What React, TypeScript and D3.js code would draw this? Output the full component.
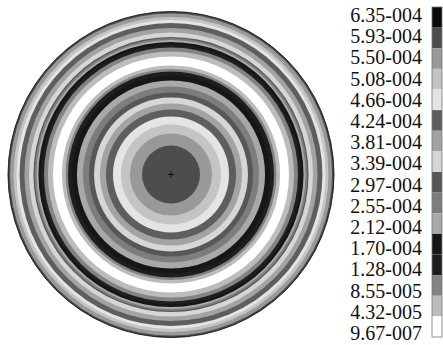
import React, { useEffect, useRef } from "react";
import * as d3 from "d3";

const WIDTH = 443;
const HEIGHT = 345;

// contour levels, top of legend to bottom
const levelLabels = [
  "6.35-004", "5.93-004", "5.50-004", "5.08-004",
  "4.66-004", "4.24-004", "3.81-004", "3.39-004",
  "2.97-004", "2.55-004", "2.12-004", "1.70-004",
  "1.28-004", "8.55-005", "4.32-005", "9.67-007",
];
const levelGrays = [
  "#0a0a0a", "#4d4d4d", "#999999", "#c4c4c4",
  "#e4e4e4", "#5e5e5e", "#a3a3a3", "#d6d6d6",
  "#575757", "#7d7d7d", "#a8a8a8", "#161616",
  "#1e1e1e", "#838383", "#bcbcbc", "#ffffff",
];

// outer radius of each band (fraction of disc radius) and its level index
const ringOuter = [
  0.178, 0.252, 0.307, 0.356, 0.399, 0.436, 0.472, 0.503, 0.54, 0.577,
  0.607, 0.632, 0.647, 0.669, 0.724, 0.755, 0.779, 0.798, 0.813, 0.825,
  0.837, 0.844, 0.871, 0.899, 0.929, 0.948, 0.966, 0.988, 0.997, 1.0,
];
const ringLevel = [
  1, 2, 3, 4, 5, 6, 7, 8, 9, 10,
  11, 12, 13, 14, 15, 14, 13, 12, 11, 10,
  9, 8, 7, 6, 5, 4, 3, 2, 1, 0,
];

const Contour: React.FC = () => {
  const svgRef = useRef<SVGSVGElement | null>(null);

  useEffect(() => {
    const svgElement = svgRef.current;
    if (!svgElement) return;
    const svg = d3.select(svgElement);
    svg.selectAll("*").remove();

    const cx = 171;
    const cy = 174.5;
    const rScale = d3.scaleLinear().domain([0, 1]).range([0, 163]);

    const rings = ringOuter
      .map((r, i) => ({ r, level: ringLevel[i] }))
      .sort((a, b) => b.r - a.r);

    const disc = svg.append("g").attr("transform", `translate(${cx},${cy})`);
    disc
      .selectAll("circle.band")
      .data(rings)
      .enter()
      .append("circle")
      .attr("class", "band")
      .attr("r", (d) => rScale(d.r))
      .attr("fill", (d) => levelGrays[d.level]);

    disc
      .append("circle")
      .attr("r", rScale(1))
      .attr("fill", "none")
      .attr("stroke", "#2a2a2a")
      .attr("stroke-width", 1);

    // centre marker
    disc
      .append("path")
      .attr("d", "M-3,0H3M0,-3V3")
      .attr("stroke", "#111")
      .attr("stroke-width", 1);

    // legend
    const yLabel = d3
      .scaleLinear()
      .domain([0, levelLabels.length - 1])
      .range([22, 340]);
    const ySwatch = d3
      .scaleLinear()
      .domain([0, levelLabels.length])
      .range([7, 337]);

    const legend = svg.append("g");
    legend
      .selectAll("rect")
      .data(levelGrays)
      .enter()
      .append("rect")
      .attr("x", 432)
      .attr("y", (_, i) => ySwatch(i))
      .attr("width", 10)
      .attr("height", ySwatch(1) - ySwatch(0))
      .attr("fill", (d) => d);

    legend
      .append("rect")
      .attr("x", 432)
      .attr("y", ySwatch(0))
      .attr("width", 10)
      .attr("height", ySwatch(levelLabels.length) - ySwatch(0))
      .attr("fill", "none")
      .attr("stroke", "#777")
      .attr("stroke-width", 0.8);

    legend
      .selectAll("text")
      .data(levelLabels)
      .enter()
      .append("text")
      .attr("x", 422)
      .attr("y", (_, i) => yLabel(i))
      .attr("text-anchor", "end")
      .attr("font-family", "Liberation Serif, Times New Roman, Times, serif")
      .attr("font-size", 20)
      .attr("fill", "#111")
      .text((d) => d);
  }, []);

  return (
    <svg
      ref={svgRef}
      width={WIDTH}
      height={HEIGHT}
      style={{ position: "absolute", left: 0, top: 0, background: "white" }}
    ></svg>
  );
};

export default function App() {
  return <Contour />;
}
